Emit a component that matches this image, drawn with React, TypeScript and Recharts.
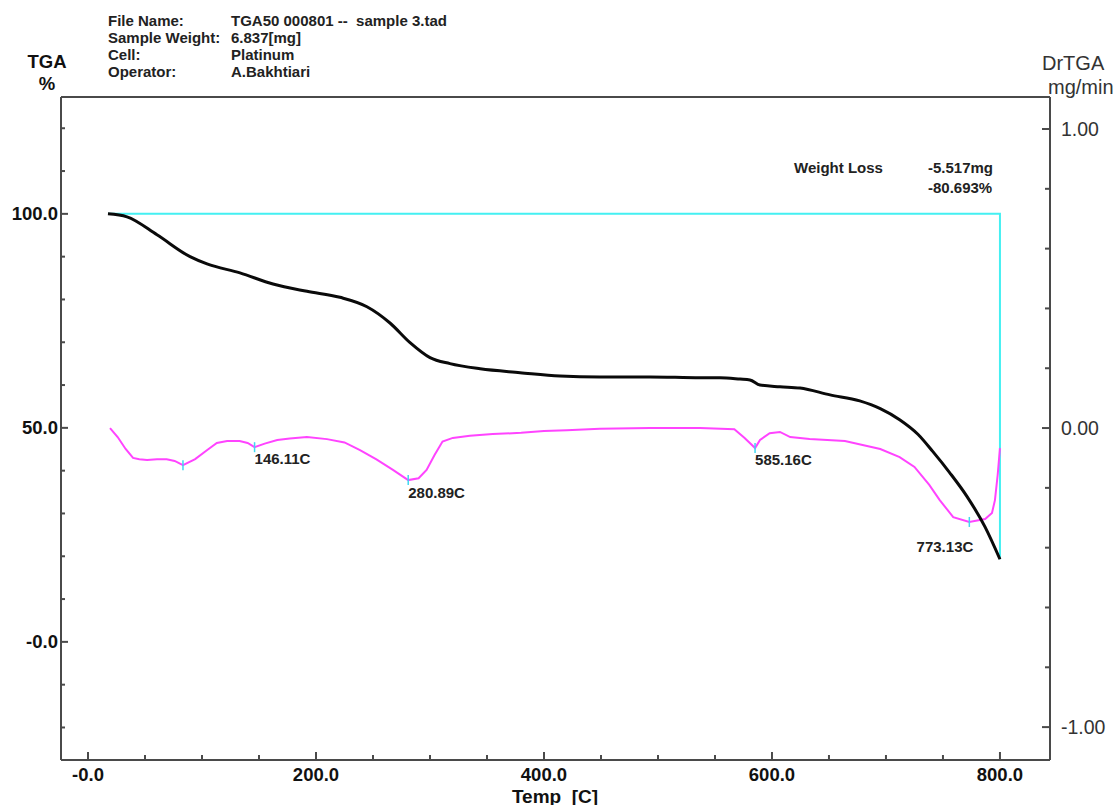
import React from 'react';
import { ComposedChart, Line, Scatter, XAxis, YAxis } from 'recharts';

// ---- data ----
const tgaTemp = [17.5, 34.2, 60.5, 89.5, 104.4, 133.3, 162.3, 192.1, 221, 244.7, 264.9, 282.5, 300, 317.5, 344, 379, 414, 449, 493, 537, 554.4, 572, 580.7, 589.5, 607, 624.6, 651, 677, 695, 712, 728, 741, 756, 771, 787, 800];
const tgaWeight = [100, 99.3, 95.1, 90.0, 88.3, 86.2, 83.6, 81.9, 80.5, 78.3, 74.5, 69.9, 66.4, 65.0, 63.8, 62.9, 62.1, 61.9, 61.9, 61.7, 61.7, 61.4, 61.2, 60.0, 59.6, 59.3, 57.7, 56.3, 54.5, 51.9, 48.5, 44.5, 39.5, 34.0, 26.8, 19.3];

const dtgTemp = [19.3, 26, 33, 39.5, 45, 51.8, 60.5, 69, 76, 83.3, 94, 104, 113, 122, 133, 140, 146.1, 155, 166, 177, 192, 209.6, 225, 238.6, 253, 267.5, 280.9, 290, 297, 304, 311, 320, 335, 355, 380, 400, 420, 449, 493, 537, 567, 576, 585.2, 589.5, 598, 607, 616, 633, 664, 695, 712, 725, 738, 747, 759, 773.1, 787, 793, 795.6, 798, 800];
const dtgValue = [0.0, -0.03, -0.07, -0.1, -0.104, -0.107, -0.104, -0.104, -0.11, -0.124, -0.104, -0.075, -0.05, -0.043, -0.043, -0.05, -0.064, -0.052, -0.04, -0.035, -0.03, -0.037, -0.048, -0.074, -0.105, -0.14, -0.174, -0.168, -0.14, -0.09, -0.045, -0.033, -0.026, -0.02, -0.016, -0.01, -0.007, -0.002, 0.0, 0.0, -0.004, -0.033, -0.067, -0.04, -0.017, -0.013, -0.03, -0.037, -0.043, -0.07, -0.097, -0.13, -0.19, -0.24, -0.298, -0.314, -0.304, -0.284, -0.241, -0.157, -0.067];

const stepTemp = [17.5, 800, 800];
const stepWeight = [100, 100, 19.3];

const peakTemp = [83.3, 146.11, 280.89, 585.16, 773.13];
const peakValue = [-0.124, -0.064, -0.174, -0.067, -0.314];
const peakLabels = ['', '146.11C', '280.89C', '585.16C', '773.13C'];

const tempTicks = [0, 50, 100, 150, 200, 250, 300, 350, 400, 450, 500, 550, 600, 650, 700, 750, 800];
const tempTickLabels: Record<string, string> = { '0': '-0.0', '200': '200.0', '400': '400.0', '600': '600.0', '800': '800.0' };
const tgaTicks = [-20, -10, 0, 10, 20, 30, 40, 50, 60, 70, 80, 90, 100, 110, 120];
const tgaTickLabels: Record<string, string> = { '0': '-0.0', '50': '50.0', '100': '100.0' };
const drTicks = [-1, -0.8, -0.6, -0.4, -0.2, 0, 0.2, 0.4, 0.6, 0.8, 1];
const drTickLabels: Record<string, string> = { '-1.0': '-1.00', '0.0': '0.00', '1.0': '1.00' };

const headerKeys = ['File Name:', 'Sample Weight:', 'Cell:', 'Operator:'];
const headerValues = ['TGA50 000801 --  sample 3.tad', '6.837[mg]', 'Platinum', 'A.Bakhtiari'];

// ---- build series tables ----
const tgaData = tgaTemp.map((t, i) => ({ t, w: tgaWeight[i] }));
const dtgData = dtgTemp.map((t, i) => ({ t, d: dtgValue[i] }));
const stepData = stepTemp.map((t, i) => ({ t, w: stepWeight[i] }));
const peakData = peakTemp.map((t, i) => ({ t, d: peakValue[i], label: peakLabels[i] }));

// ---- styles ----
const FONT = '"Liberation Sans", Arial, sans-serif';
const AXIS = '#4a4a4a';
const labelPlacement: Record<string, { dx: number; dy: number; anchor: 'start' | 'end' }> = {
  '146.11C': { dx: 0, dy: 11, anchor: 'start' },
  '280.89C': { dx: 0, dy: 12, anchor: 'start' },
  '585.16C': { dx: 0, dy: 11, anchor: 'start' },
  '773.13C': { dx: 4, dy: 25, anchor: 'end' },
};

const LeftTick = (props: any) => {
  const { x, y, payload } = props;
  const lab = tgaTickLabels[String(payload.value)];
  return (
    <g>
      <line x1={x} x2={x + (lab ? 7 : 4)} y1={y} y2={y} stroke={AXIS} strokeWidth={2} />
      {lab && (
        <text x={x - 3} y={y} textAnchor="end" dominantBaseline="central" fontFamily={FONT} fontWeight="bold" fontSize={18.5} fill="#111">
          {lab}
        </text>
      )}
    </g>
  );
};

const RightTick = (props: any) => {
  const { x, y, payload } = props;
  const lab = drTickLabels[Number(payload.value).toFixed(1)];
  return (
    <g>
      <line x1={x} x2={x - (lab ? 8 : 5)} y1={y} y2={y} stroke={AXIS} strokeWidth={2} />
      {lab && (
        <text x={x + 11} y={y} textAnchor="start" dominantBaseline="central" fontFamily={FONT} fontSize={19.5} fill="#333">
          {lab}
        </text>
      )}
    </g>
  );
};

const BottomTick = (props: any) => {
  const { x, y, payload } = props;
  const lab = tempTickLabels[String(payload.value)];
  return (
    <g>
      <line x1={x} x2={x} y1={y} y2={y - (lab ? 8 : 5)} stroke={AXIS} strokeWidth={2} />
      {lab && (
        <text x={x} y={y + 14} textAnchor="middle" dominantBaseline="central" fontFamily={FONT} fontWeight="bold" fontSize={18.5} fill="#111">
          {lab}
        </text>
      )}
    </g>
  );
};

const PeakMark = (props: any) => {
  const { cx, cy, payload } = props;
  const pl = labelPlacement[payload.label];
  return (
    <g>
      <line x1={cx} x2={cx} y1={cy - 5} y2={cy + 5} stroke="#3fd8f0" strokeWidth={1.5} />
      {pl && (
        <text x={cx + pl.dx} y={cy + pl.dy} textAnchor={pl.anchor} dominantBaseline="central" fontFamily={FONT} fontWeight="bold" fontSize={15} fill="#222">
          {payload.label}
        </text>
      )}
    </g>
  );
};

const txt = (extra: React.CSSProperties): React.CSSProperties => ({
  position: 'absolute',
  fontFamily: FONT,
  whiteSpace: 'pre',
  color: '#222',
  ...extra,
});

export default function App() {
  return (
    <div style={{ position: 'absolute', left: 0, top: 0, width: 1118, height: 805, background: '#fff' }}>
      <ComposedChart width={1118} height={805} margin={{ top: 96, left: 11, right: 18, bottom: 15 }}>
        <XAxis
          xAxisId="b"
          type="number"
          dataKey="t"
          domain={[-23.7, 843.9]}
          ticks={tempTicks}
          interval={0}
          allowDataOverflow
          height={30}
          tickSize={0}
          tickMargin={0}
          tick={<BottomTick />}
          tickLine={false}
          axisLine={{ stroke: AXIS, strokeWidth: 2 }}
        />
        <XAxis
          xAxisId="top"
          orientation="top"
          type="number"
          dataKey="t"
          domain={[-23.7, 843.9]}
          allowDataOverflow
          height={1}
          ticks={[0]}
          tick={false}
          tickLine={false}
          axisLine={{ stroke: AXIS, strokeWidth: 2 }}
        />
        <YAxis
          yAxisId="l"
          type="number"
          domain={[-27.6, 127.3]}
          ticks={tgaTicks}
          interval={0}
          allowDataOverflow
          width={50}
          tickSize={0}
          tickMargin={0}
          tick={<LeftTick />}
          tickLine={false}
          axisLine={{ stroke: AXIS, strokeWidth: 2 }}
        />
        <YAxis
          yAxisId="r"
          orientation="right"
          type="number"
          domain={[-1.11, 1.107]}
          ticks={drTicks}
          interval={0}
          allowDataOverflow
          width={50}
          tickSize={0}
          tickMargin={0}
          tick={<RightTick />}
          tickLine={false}
          axisLine={{ stroke: AXIS, strokeWidth: 2 }}
        />
        <Line xAxisId="top" yAxisId="l" data={stepData} dataKey="w" type="linear" stroke="#44f0f2" strokeWidth={2} dot={false} isAnimationActive={false} />
        <Line xAxisId="b" yAxisId="r" data={dtgData} dataKey="d" type="linear" stroke="#ff44ff" strokeWidth={2} dot={false} isAnimationActive={false} />
        <Line xAxisId="b" yAxisId="l" data={tgaData} dataKey="w" type="monotone" stroke="#0a0a0a" strokeWidth={3} dot={false} isAnimationActive={false} />
        <Scatter xAxisId="b" yAxisId="r" data={peakData} dataKey="d" shape={<PeakMark />} isAnimationActive={false} />
      </ComposedChart>

      {headerKeys.map((k, i) => (
        <div key={k} style={txt({ left: 108, top: 12 + i * 17, fontSize: 15, lineHeight: '17px', fontWeight: 'bold' })}>{k}</div>
      ))}
      {headerValues.map((v, i) => (
        <div key={v} style={txt({ left: 231, top: 12 + i * 17, fontSize: 15, lineHeight: '17px', fontWeight: 'bold' })}>{v}</div>
      ))}

      <div style={txt({ left: 27, top: 51, width: 40, textAlign: 'center', fontSize: 18.5, lineHeight: '22px', fontWeight: 'bold', color: '#111' })}>TGA</div>
      <div style={txt({ left: 27, top: 73, width: 40, textAlign: 'center', fontSize: 18.5, lineHeight: '22px', fontWeight: 'bold', color: '#111' })}>%</div>

      <div style={txt({ left: 1042, top: 52, fontSize: 20, lineHeight: '22px', color: '#333' })}>DrTGA</div>
      <div style={txt({ left: 1048, top: 76, fontSize: 20, lineHeight: '22px', color: '#333' })}>mg/min</div>

      <div style={txt({ left: 455, top: 786, width: 200, textAlign: 'center', fontSize: 19, lineHeight: '22px', fontWeight: 'bold', color: '#111' })}>{'Temp  [C]'}</div>

      <div style={txt({ left: 794, top: 158, fontSize: 15, lineHeight: '20px', fontWeight: 'bold' })}>Weight Loss</div>
      <div style={txt({ left: 928, top: 158, fontSize: 15, lineHeight: '20px', fontWeight: 'bold' })}>-5.517mg</div>
      <div style={txt({ left: 928, top: 178, fontSize: 15, lineHeight: '20px', fontWeight: 'bold' })}>-80.693%</div>
    </div>
  );
}
